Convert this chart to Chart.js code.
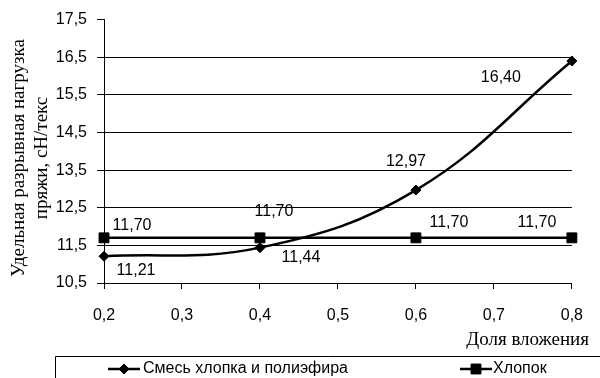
<!DOCTYPE html>
<html><head><meta charset="utf-8">
<script src="https://cdn.jsdelivr.net/npm/chart.js@4/dist/chart.umd.min.js"></script>
<style>html,body{margin:0;padding:0;background:#fff}#wrap{width:600px;height:378px;position:relative}</style>
</head><body><div id="wrap"><canvas id="c" width="600" height="378"></canvas></div>
<script>
// ---- data ----
const shares = [0.2, 0.4, 0.6, 0.8];
const blendValues = [11.21, 11.44, 12.97, 16.40];
const cottonValues = [11.70, 11.70, 11.70, 11.70];
const seriesNames = ['Смесь хлопка и полиэфира', 'Хлопок'];
const xTicks = [0.2, 0.3, 0.4, 0.5, 0.6, 0.7, 0.8];
const yTicks = [10.5, 11.5, 12.5, 13.5, 14.5, 15.5, 16.5, 17.5];
const xTitle = 'Доля вложения';
const yTitle = ['Удельная разрывная нагрузка', 'пряжи, сН/текс'];

// ---- label placement (style) ----
const labelOffsets = [
  [[32, 14], [41, 10], [-10, -28], [-71, 17]],
  [[28, -12], [14, -26], [33, -15], [-35, -15]]
];

const SANS = '"Liberation Sans", Arial, sans-serif';
const SERIF = '"Liberation Serif", "Times New Roman", serif';
const fmt = (v, d) => v.toFixed(d).replace('.', ',');

const valuePlugin = {
  id: 'values',
  afterDatasetsDraw(chart) {
    const ctx = chart.ctx;
    ctx.save();
    ctx.font = '16px ' + SANS;
    ctx.fillStyle = '#000';
    ctx.textAlign = 'center';
    ctx.textBaseline = 'middle';
    chart.data.datasets.forEach((ds, di) => {
      chart.getDatasetMeta(di).data.forEach((pt, i) => {
        const o = labelOffsets[di][i];
        ctx.fillText(fmt(ds.data[i].y, 2), pt.x + o[0], pt.y + o[1]);
      });
    });
    ctx.restore();
  },
  afterDraw(chart) {
    const ctx = chart.ctx;
    ctx.save();
    ctx.fillStyle = '#000';
    // x title
    ctx.font = '19px ' + SERIF;
    ctx.textAlign = 'right';
    ctx.textBaseline = 'middle';
    ctx.fillText(xTitle, 589, 340);
    // y title
    ctx.save();
    ctx.translate(0, 158);
    ctx.rotate(-Math.PI / 2);
    ctx.textAlign = 'center';
    ctx.fillText(yTitle[0], 0, 19);
    ctx.fillText(yTitle[1], 0, 42);
    ctx.restore();
    // legend box
    ctx.strokeStyle = '#000';
    ctx.lineWidth = 1;
    ctx.beginPath();
    ctx.moveTo(55.5, 380);
    ctx.lineTo(55.5, 356.5);
    ctx.lineTo(602, 356.5);
    ctx.stroke();
    const items = [
      {x0: 108, x1: 140, style: 'rectRot', r: 5, tx: 143},
      {x0: 460, x1: 492, style: 'rect', r: 7, tx: 493}
    ];
    ctx.font = '16px ' + SANS;
    ctx.textAlign = 'left';
    ctx.textBaseline = 'middle';
    items.forEach((it, k) => {
      const y = 369;
      ctx.lineWidth = 2.5;
      ctx.beginPath();
      ctx.moveTo(it.x0, y);
      ctx.lineTo(it.x1, y);
      ctx.stroke();
      ctx.lineWidth = 1;
      Chart.helpers.drawPoint(ctx, {pointStyle: it.style, radius: it.r, borderWidth: 1}, (it.x0 + it.x1) / 2, y);
      ctx.fill();
      ctx.fillText(seriesNames[k], it.tx, y);
    });
    ctx.restore();
  }
};

new Chart(document.getElementById('c'), {
  type: 'line',
  data: {
    datasets: [
      {
        label: seriesNames[0],
        data: shares.map((x, i) => ({x, y: blendValues[i]})),
        borderColor: '#000', backgroundColor: '#000', borderWidth: 2.5,
        tension: 0.4, pointStyle: 'rectRot', pointRadius: 5,
        pointBackgroundColor: '#000', pointBorderColor: '#000', pointBorderWidth: 1,
        clip: false
      },
      {
        label: seriesNames[1],
        data: shares.map((x, i) => ({x, y: cottonValues[i]})),
        borderColor: '#000', backgroundColor: '#000', borderWidth: 2.5,
        tension: 0, pointStyle: 'rect', pointRadius: 7,
        pointBackgroundColor: '#000', pointBorderColor: '#000', pointBorderWidth: 1,
        clip: false
      }
    ]
  },
  options: {
    responsive: false, animation: false, devicePixelRatio: 1,
    layout: {padding: {left: 0, right: 17, top: 19, bottom: 0}},
    plugins: {legend: {display: false}, tooltip: {enabled: false}},
    scales: {
      x: {
        type: 'linear', min: 0.2, max: 0.8,
        afterBuildTicks: s => { s.ticks = xTicks.map(v => ({value: v})); },
        afterFit: s => { s.height = 95; },
        border: {color: '#000', width: 1},
        grid: {drawOnChartArea: false, drawTicks: true, tickLength: 6, tickColor: '#000'},
        ticks: {color: '#000', font: {family: SANS, size: 16}, padding: 17, maxRotation: 0,
          callback: v => fmt(v, 1)}
      },
      y: {
        min: 10.5, max: 17.5,
        afterBuildTicks: s => { s.ticks = yTicks.map(v => ({value: v})); },
        afterFit: s => { s.width = 104; },
        border: {color: '#000', width: 1},
        grid: {
          color: c => (c.tick && c.tick.value === 17.5) ? 'rgba(0,0,0,0)' : '#000',
          tickColor: '#000', tickLength: 7, lineWidth: 1
        },
        ticks: {color: '#000', font: {family: SANS, size: 16}, padding: 10,
          callback: v => fmt(v, 1)}
      }
    }
  },
  plugins: [valuePlugin]
});
</script>
</body></html>
